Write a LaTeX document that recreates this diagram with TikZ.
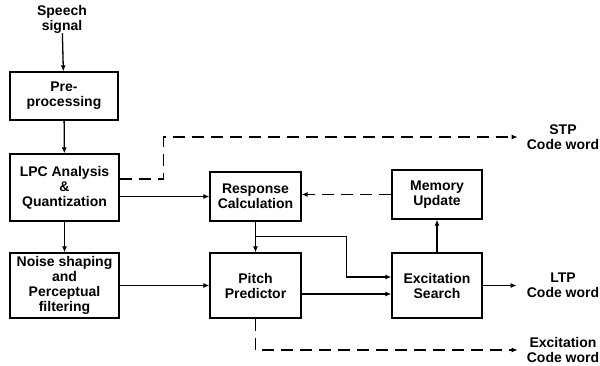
\documentclass[tikz,border=0pt]{standalone}
\usepackage{fontspec}
\setmainfont{Liberation Sans}
\usetikzlibrary{arrows.meta,positioning,calc}

\begin{document}
\begin{tikzpicture}[
  x=1pt, y=-1pt,
  every node/.style = {align=center, font=\fontsize{14}{15}\selectfont\bfseries},
  block/.style = {draw, line width=1.3pt, inner sep=2pt},
  outlbl/.style = {inner sep=0pt},
  arr/.style = {line width=1.3pt, -{Latex[length=6pt,width=5pt]}},
  darr/.style = {arr, dash pattern=on 12pt off 7pt}
]
\useasboundingbox (0,0) rectangle (600,365);

% blocks
\node[block, minimum width=108pt, minimum height=48pt] (pre) at (64,96) {Pre-\\processing};
\node[block, minimum width=109pt, minimum height=67pt] (lpc) at (64.5,187.5) {LPC Analysis\\\&\\Quantization};
\node[block, minimum width=109pt, minimum height=65pt] (noise) at (64.5,285.5) {Noise shaping\\and\\Perceptual\\filtering};
\node[block, minimum width=91pt, minimum height=49pt] (resp) at (255.5,196.5) {Response\\Calculation};
\node[block, minimum width=91pt, minimum height=65pt] (pitch) at (255.5,285.5) {Pitch\\Predictor};
\node[block, minimum width=90pt, minimum height=49pt] (mem) at (437,194.5) {Memory\\Update};
\node[block, minimum width=90pt, minimum height=65pt] (exc) at (437,285.5) {Excitation\\Search};

% inputs and outputs
\node[outlbl] (speech) at (62,19) {Speech\\signal};
\node[outlbl] (stp) at (563,137) {STP\\Code word};
\node[outlbl] (ltp) at (563,285.5) {LTP\\Code word};
\node[outlbl] (excw) at (563,350) {Excitation\\Code word};

\draw[arr] (speech) -- (pre);
\draw[arr] (pre) -- (lpc);
\draw[arr] (lpc) -- (noise);
\draw[arr] (lpc.east |- resp.west) -- (resp.west);
\draw[arr] (noise.east) -- (pitch.west);
\draw[arr] (resp.south) -- (pitch.north);
\coordinate (br) at ($(resp.south)+(0,15)$);
\draw[arr] (br) -- ++(91,0) |- ([yshift=8.5pt]exc.west);
\draw[arr] ([yshift=-8.5pt]pitch.east) -- ([yshift=-8.5pt]exc.west);
\draw[arr] (exc.north) -- (mem.south);
\draw[arr, shorten >=10pt] (exc.east) -- (ltp.west);

% dashed outputs
\draw[darr] (mem.west) -- (mem.west -| resp.east);
\draw[darr, shorten >=9pt] ([yshift=8.5pt]lpc.east) -- ++(44,0) |- (stp.west);
\draw[darr, shorten >=9pt] (pitch.south) |- (excw.west);

\end{tikzpicture}
\end{document}
